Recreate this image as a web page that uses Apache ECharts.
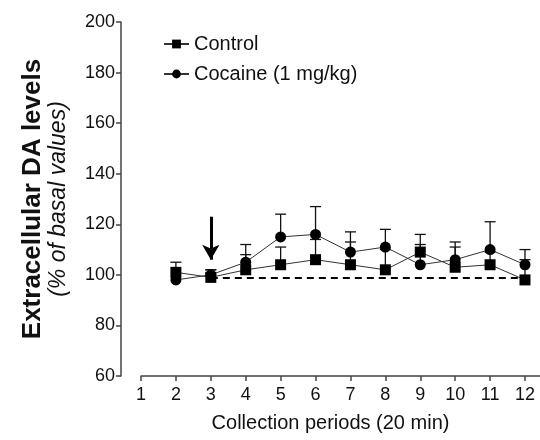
<!DOCTYPE html>
<html>
<head>
<meta charset="utf-8">
<script src="https://cdn.jsdelivr.net/npm/echarts@6/dist/echarts.min.js"></script>
<style>html,body{margin:0;padding:0;background:#fff}#c{width:540px;height:440px}</style>
</head>
<body>
<div id="c"></div>
<script>
const periods = [2, 3, 4, 5, 6, 7, 8, 9, 10, 11, 12];
const controlMean = [101, 99, 102, 104, 106, 104, 102, 109, 103, 104, 98];
const controlUpper = [105, 102, 108, 111, 114, 113, 110, 116, 111, 109, 106];
const cocaineMean = [98, 100, 105, 115, 116, 109, 111, 104, 106, 110, 104];
const cocaineUpper = [98, 102, 112, 124, 127, 117, 118, 112, 113, 121, 110];
const xTicks = [1, 2, 3, 4, 5, 6, 7, 8, 9, 10, 11, 12];
const baselineLevel = 99;
const arrowFrom = 123;
const arrowTo = 106;

const FONT = '"Liberation Sans", Arial, sans-serif';
const chart = echarts.init(document.getElementById('c'), null, {renderer: 'canvas'});

function pairs(xs, ys) { return xs.map((x, i) => [x, ys[i]]); }
function errData(xs, m, u) { return xs.map((x, i) => [x, m[i], u[i]]); }

function errRender(params, api) {
  const x = api.value(0), hi = api.value(2), m = api.value(1);
  if (hi <= m) return null;
  const p0 = api.coord([x, m]);
  const p1 = api.coord([x, hi]);
  const w = 5.5;
  return {
    type: 'group',
    children: [
      {type: 'line', shape: {x1: p0[0], y1: p0[1], x2: p1[0], y2: p1[1]}, style: {stroke: '#111', lineWidth: 1.3}},
      {type: 'line', shape: {x1: p1[0] - w, y1: p1[1], x2: p1[0] + w, y2: p1[1]}, style: {stroke: '#111', lineWidth: 1.3}}
    ]
  };
}

chart.setOption({
  animation: false,
  backgroundColor: '#fff',
  grid: {left: 141, right: 0, top: 22, bottom: 64, containLabel: false},
  legend: {
    orient: 'vertical', left: 158, top: 29, itemWidth: 25, itemHeight: 11, itemGap: 10,
    textStyle: {fontFamily: FONT, fontSize: 20, color: '#111'},
    data: ['Control', 'Cocaine (1 mg/kg)']
  },
  xAxis: {
    type: 'value', min: 1, max: 12.43, interval: 1,
    name: 'Collection periods (20 min)', nameLocation: 'middle', nameGap: 37,
    nameTextStyle: {fontFamily: FONT, fontSize: 20, color: '#111', padding: [0, 20, 0, 0]},
    axisLine: {show: true, lineStyle: {color: '#444', width: 1.5}},
    axisTick: {show: true, length: 5, customValues: xTicks, lineStyle: {color: '#444', width: 1.5}},
    axisLabel: {customValues: xTicks, margin: 10, fontFamily: FONT, fontSize: 18, color: '#111'},
    splitLine: {show: false}
  },
  yAxis: {
    type: 'value', min: 60, max: 200, interval: 20, offset: 20,
    name: '{a|Extracellular DA levels}\n{b|(% of basal values)}',
    nameLocation: 'middle', nameGap: 50, nameRotate: 90,
    nameTextStyle: {
      rich: {
        a: {fontFamily: FONT, fontSize: 26, fontWeight: 'bold', color: '#111', lineHeight: 28},
        b: {fontFamily: FONT, fontSize: 23, fontStyle: 'italic', color: '#111', lineHeight: 24}
      }
    },
    axisLine: {show: true, lineStyle: {color: '#444', width: 1.5}},
    axisTick: {show: true, length: 5, lineStyle: {color: '#444', width: 1.5}},
    axisLabel: {margin: 6, fontFamily: FONT, fontSize: 18, color: '#111'},
    splitLine: {show: false}
  },
  series: [
    {
      name: 'ctrlErr', type: 'custom', renderItem: errRender,
      data: errData(periods, controlMean, controlUpper), z: 1, silent: true
    },
    {
      name: 'cocErr', type: 'custom', renderItem: errRender,
      data: errData(periods, cocaineMean, cocaineUpper), z: 1, silent: true
    },
    {
      name: 'Control', type: 'line', data: pairs(periods, controlMean),
      symbol: 'rect', symbolSize: 11, showSymbol: true,
      lineStyle: {color: '#333', width: 1}, itemStyle: {color: '#000'}, z: 3,
      markLine: {
        silent: true, symbol: ['none', 'none'], label: {show: false},
        lineStyle: {color: '#000', type: [7, 5], width: 2},
        data: [[{coord: [3, baselineLevel]}, {coord: [12, baselineLevel]}]]
      }
    },
    {
      name: 'Cocaine (1 mg/kg)', type: 'line', data: pairs(periods, cocaineMean),
      symbol: 'circle', symbolSize: 11, showSymbol: true,
      lineStyle: {color: '#333', width: 1}, itemStyle: {color: '#000'}, z: 4,
      markLine: {
        silent: true, symbol: ['none', 'arrow'], symbolSize: [13, 15], label: {show: false},
        lineStyle: {color: '#000', type: 'solid', width: 3},
        data: [[{coord: [3, arrowFrom]}, {coord: [3, arrowTo]}]]
      }
    }
  ]
});
</script>
</body>
</html>
